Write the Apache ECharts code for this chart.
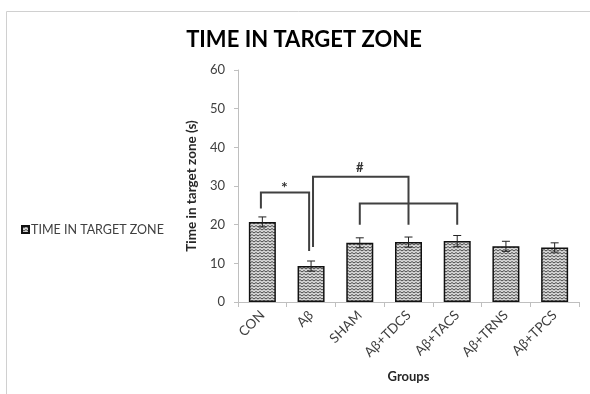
<!DOCTYPE html>
<html>
<head>
<meta charset="utf-8">
<script src="https://cdn.jsdelivr.net/npm/echarts@6/dist/echarts.min.js"></script>
<style>html,body{margin:0;padding:0;background:#fff}#c{width:590px;height:394px}</style>
</head>
<body>
<div id="c"></div>
<script>
// ---- data ----
const categories = ['CON', 'Aβ', 'SHAM', 'Aβ+TDCS', 'Aβ+TACS', 'Aβ+TRNS', 'Aβ+TPCS'];
const values = [20.7, 9.3, 15.3, 15.5, 15.8, 14.4, 14.1];
const errors = [1.3, 1.3, 1.3, 1.3, 1.4, 1.3, 1.2];
const yTicks = [0, 10, 20, 30, 40, 50, 60];
// brackets: [leftIndex, rightIndex, topValue, leftBottomValue, rightBottomValue]
const brackets = [
  [-0.03, 0.96, 28.3, 24.2, 13.2],
  [1.04, 3.0, 32.4, 14.2, 20.0],
  [2.0, 4.0, 25.5, 20.0, 20.0]
];
// significance marks: [index, value, text]
const marks = [
  [0.45, 29.6, '*'],
  [2.0, 34.6, '#']
];

// ---- pattern ----
function makePattern() {
  const c = document.createElement('canvas');
  c.width = 4; c.height = 3;
  const g = c.getContext('2d');
  g.fillStyle = '#d8d8d8';
  g.fillRect(0, 0, 4, 3);
  g.strokeStyle = '#4a4a4a';
  g.lineWidth = 1;
  g.beginPath();
  g.moveTo(0, 0.5); g.lineTo(2, 2); g.lineTo(4, 0.5);
  g.stroke();
  return { image: c, repeat: 'repeat' };
}
const pattern = makePattern();

const FONT = 'Lato, "Open Sans", sans-serif';
const chart = echarts.init(document.getElementById('c'), null, { renderer: 'canvas' });

function px(api, idx) {
  const base = Math.round(idx);
  const w = api.size([1, 0])[0];
  return api.coord([base, 0])[0] + (idx - base) * w;
}

chart.setOption({
  animation: false,
  backgroundColor: '#fff',
  textStyle: { fontFamily: FONT },
  title: {
    text: 'TIME IN TARGET ZONE',
    left: 299, textAlign: 'center', top: 24,
    textStyle: { fontFamily: FONT, fontWeight: 'bold', fontSize: 22, color: '#000' }
  },
  graphic: [{
    type: 'rect', silent: true, z: -10,
    shape: { x: 6.5, y: 11.5, width: 620, height: 420 },
    style: { fill: null, stroke: '#d0d0d0', lineWidth: 1 }
  }],
  legend: {
    left: 16, top: 218, orient: 'vertical',
    itemWidth: 7, itemHeight: 7, itemGap: 2,
    data: [{ name: 'TIME IN TARGET ZONE', icon: 'rect' }],
    textStyle: { fontFamily: FONT, fontSize: 12.5, color: '#404040', padding: [0, 0, 0, -3] }
  },
  grid: { left: 238, right: 11, top: 70, bottom: 92 },
  xAxis: {
    type: 'category', data: categories,
    name: 'Groups', nameLocation: 'middle', nameGap: 68,
    nameTextStyle: { fontFamily: FONT, fontWeight: 'bold', fontSize: 13, color: '#262626' },
    axisLine: { lineStyle: { color: '#bfbfbf', width: 1 } },
    axisTick: { show: true, length: 5, lineStyle: { color: '#bfbfbf' } },
    axisLabel: { rotate: 45, margin: 11, fontSize: 13.5, color: '#404040', fontFamily: FONT, interval: 0 }
  },
  yAxis: {
    type: 'value', min: yTicks[0], max: yTicks[yTicks.length - 1], interval: 10,
    name: 'Time in target zone (s)', nameLocation: 'middle', nameGap: 37,
    nameTextStyle: { fontFamily: FONT, fontWeight: 'bold', fontSize: 13.5, color: '#262626' },
    axisLine: { show: true, lineStyle: { color: '#bfbfbf', width: 1 } },
    axisTick: { show: true, length: 4, lineStyle: { color: '#bfbfbf' } },
    splitLine: { show: false },
    axisLabel: { margin: 13, fontSize: 13, color: '#404040', fontFamily: FONT }
  },
  series: [
    {
      name: 'TIME IN TARGET ZONE', type: 'bar', data: values, barWidth: 27,
      itemStyle: { color: pattern, borderColor: '#111', borderWidth: 1.5 },
      z: 2
    },
    {
      type: 'custom', name: 'err', z: 5, silent: true,
      data: values.map((v, i) => [i, v, errors[i]]),
      renderItem: function (params, api) {
        const i = api.value(0), v = api.value(1), e = api.value(2);
        const hi = api.coord([i, v + e]);
        const lo = api.coord([i, v - e]);
        const cw = 4;
        const st = { stroke: '#222', lineWidth: 1 };
        return {
          type: 'group', children: [
            { type: 'line', shape: { x1: hi[0], y1: hi[1], x2: lo[0], y2: lo[1] }, style: st },
            { type: 'line', shape: { x1: hi[0] - cw, y1: hi[1], x2: hi[0] + cw, y2: hi[1] }, style: st },
            { type: 'line', shape: { x1: lo[0] - cw, y1: lo[1], x2: lo[0] + cw, y2: lo[1] }, style: st }
          ]
        };
      }
    },
    {
      type: 'custom', name: 'brackets', z: 6, silent: true,
      data: brackets,
      renderItem: function (params, api) {
        const xl = px(api, api.value(0)), xr = px(api, api.value(1));
        const yt = api.coord([0, api.value(2)])[1];
        const yl = api.coord([0, api.value(3)])[1];
        const yr = api.coord([0, api.value(4)])[1];
        return {
          type: 'polyline',
          shape: { points: [[xl, yl], [xl, yt], [xr, yt], [xr, yr]] },
          style: { stroke: '#404040', lineWidth: 2, fill: null }
        };
      }
    },
    {
      type: 'custom', name: 'marks', z: 7, silent: true,
      data: marks,
      renderItem: function (params, api) {
        const x = px(api, api.value(0));
        const y = api.coord([0, api.value(1)])[1];
        const t = marks[params.dataIndex][2];
        return {
          type: 'text',
          style: {
            x: x, y: y, text: t,
            font: 'bold ' + (t === '*' ? 16 : 13) + 'px ' + FONT, fill: '#333', align: 'center', verticalAlign: 'middle'
          }
        };
      }
    }
  ]
});
</script>
</body>
</html>
